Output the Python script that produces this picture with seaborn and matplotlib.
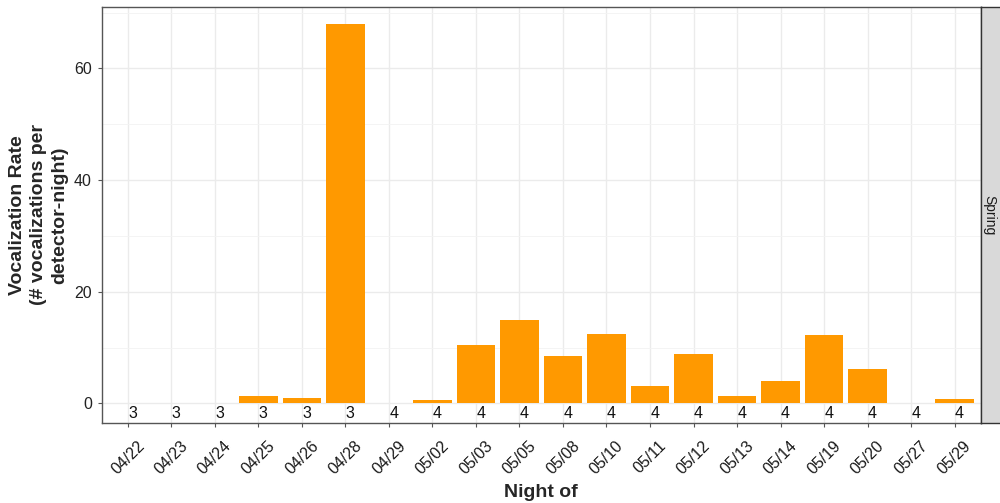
import matplotlib
matplotlib.use("Agg")
import matplotlib.pyplot as plt
import seaborn as sns
import pandas as pd
import numpy as np

# Nightly vocalization rate, spring season
nights = ["04/22", "04/23", "04/24", "04/25", "04/26", "04/28", "04/29",
          "05/02", "05/03", "05/05", "05/08", "05/10", "05/11", "05/12",
          "05/13", "05/14", "05/19", "05/20", "05/27", "05/29"]
rates = [0.0, 0.0, 0.0, 1.35, 1.05, 67.9, 0.0,
         0.7, 10.55, 14.95, 8.45, 12.5, 3.2, 8.95,
         1.3, 4.05, 12.3, 6.1, 0.0, 0.75]
detectors = [3, 3, 3, 3, 3, 3, 4,
             4, 4, 4, 4, 4, 4, 4,
             4, 4, 4, 4, 4, 4]
season = "Spring"
y_ticks = [0, 20, 40, 60]

df = pd.DataFrame({"night": nights, "rate": rates, "n": detectors})

sns.set_theme(style="white")
plt.rcParams["font.family"] = ["Liberation Sans", "DejaVu Sans"]

fig = plt.figure(figsize=(10, 5.03), dpi=100)
ax = fig.add_axes([0.1017, 0.159, 0.879, 0.827])

sns.barplot(data=df, x="night", y="rate", order=nights, color="#FF9900",
            saturation=1, width=0.88, errorbar=None, linewidth=0,
            ax=ax, zorder=3)

# detector counts written under each bar
for i, n in enumerate(df["n"]):
    ax.annotate(str(n), xy=(i, -1.8), xytext=(3.6, 0), textcoords="offset points",
                ha="center", va="center", fontsize=11.5, color="#111111", zorder=4)

ax.set_xlim(-0.6, len(nights) - 0.4)
ax.set_ylim(-3.5, 71.0)
ax.set_yticks(y_ticks)
ax.set_yticks([10, 30, 50, 70], minor=True)

ax.set_facecolor("white")
ax.grid(True, which="major", color="#EBEBEB", linewidth=1.0, zorder=0)
ax.grid(True, which="minor", axis="y", color="#F3F3F3", linewidth=0.6, zorder=0)
ax.set_axisbelow(True)
for s in ax.spines.values():
    s.set_visible(True)
    s.set_color("#555555")
    s.set_linewidth(1.0)

ax.tick_params(axis="x", which="major", length=3, width=0.8, color="#555555",
               pad=8, labelsize=11.5, labelcolor="#1a1a1a", bottom=True)
ax.tick_params(axis="y", which="major", length=3, width=0.8, color="#555555",
               pad=4, labelsize=11.5, labelcolor="#222222", left=True)
ax.tick_params(axis="y", which="minor", length=0)
for lab in ax.get_xticklabels():
    lab.set_rotation(45)
    lab.set_ha("center")
    lab.set_va("top")

ax.set_xlabel("Night of", fontsize=14, fontweight="bold", labelpad=5)
ax.set_ylabel("")
fig.text(0.0385, 0.5726, "Vocalization Rate\n(# vocalizations per\ndetector-night)",
         rotation=90, ha="center", va="center", multialignment="center",
         fontsize=14, fontweight="bold", linespacing=1.3)

# facet strip on the right
strip = fig.add_axes([0.9807, 0.159, 0.05, 0.827])
strip.set_facecolor("#D9D9D9")
strip.set_xticks([])
strip.set_yticks([])
for s in strip.spines.values():
    s.set_color("#333333")
    s.set_linewidth(1.0)
fig.text(0.989, 0.5726, season, rotation=-90, ha="center", va="center",
         fontsize=10, color="#1a1a1a")

fig.savefig("out.png", dpi=100)
